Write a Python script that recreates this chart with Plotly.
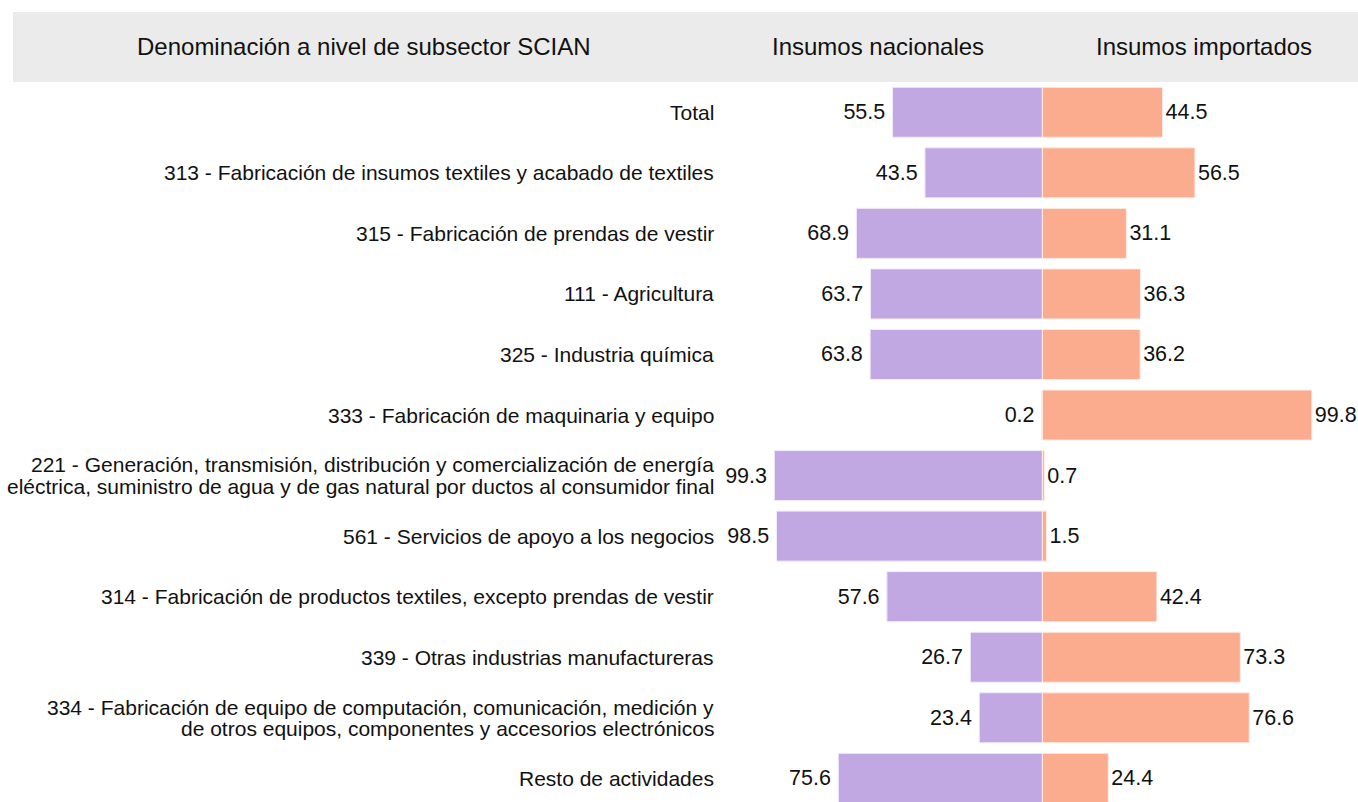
import plotly.graph_objects as go

categorias = [
    "Total",
    "313 - Fabricación de insumos textiles y acabado de textiles",
    "315 - Fabricación de prendas de vestir",
    "111 - Agricultura",
    "325 - Industria química",
    "333 - Fabricación de maquinaria y equipo",
    "221 - Generación, transmisión, distribución y comercialización de energía<br>eléctrica, suministro de agua y de gas natural por ductos al consumidor final",
    "561 - Servicios de apoyo a los negocios",
    "314 - Fabricación de productos textiles, excepto prendas de vestir",
    "339 - Otras industrias manufactureras",
    "334 - Fabricación de equipo de computación, comunicación, medición y<br>de otros equipos, componentes y accesorios electrónicos",
    "Resto de actividades",
]
nacionales = [55.5, 43.5, 68.9, 63.7, 63.8, 0.2, 99.3, 98.5, 57.6, 26.7, 23.4, 75.6]
importados = [44.5, 56.5, 31.1, 36.3, 36.2, 99.8, 0.7, 1.5, 42.4, 73.3, 76.6, 24.4]
encabezados = ["Denominación a nivel de subsector SCIAN", "Insumos nacionales", "Insumos importados"]

# body margin is removed in the page, so figure coords = page coords
W, H = 1358, 802
L, T, B, R = 722, 82, 0, 0
PW, PH = W - L - R, H - T - B
CX = 1042.4          # zero line, px
SCALE = 2.70         # px per unit
ROW = 60.55          # px per category

def px(x):
    return (x - L) / PW

def py(y):
    return 1 - (y - T) / PH

FONT = "Liberation Sans, Arial, sans-serif"
FS_LAB = 21
FS_VAL = 21.5
fig = go.Figure()
fig.add_trace(go.Bar(
    y=categorias, x=[-v for v in nacionales], orientation="h",
    marker=dict(color="#c2a8e3", line=dict(color="#f1ebf9", width=1)),
    text=[f"{v:.1f}\u2009" for v in nacionales], textposition="outside",
    textfont=dict(size=FS_VAL, color="#111", family=FONT), cliponaxis=False, constraintext="none",
    hoverinfo="skip", name=encabezados[1],
))
fig.add_trace(go.Bar(
    y=categorias, x=importados, orientation="h",
    marker=dict(color="#fbab8e", line=dict(color="#fdece6", width=1)),
    text=[f"{v:.1f}" for v in importados], textposition="outside",
    textfont=dict(size=FS_VAL, color="#111", family=FONT), cliponaxis=False, constraintext="none",
    hoverinfo="skip", name=encabezados[2],
))

# category labels (multi-line ones split for the tight line spacing of the original)
for cat in categorias:
    lines = cat.split("<br>")
    n = len(lines)
    for i, ln in enumerate(lines):
        fig.add_annotation(text=ln, xref="paper", yref="y", x=0, y=cat,
                           xanchor="right", yanchor="middle", xshift=-6,
                           yshift=(n - 1) / 2 * 21.5 - i * 21.5,
                           showarrow=False, font=dict(size=FS_LAB, color="#111", family=FONT))

fig.add_shape(type="rect", xref="paper", yref="paper",
              x0=px(13), x1=px(1360), y0=py(82), y1=py(12),
              fillcolor="#ebebeb", line=dict(width=0), layer="below")
for txt, cx in zip(encabezados, [364, 878, 1204]):
    fig.add_annotation(text=txt, xref="paper", yref="paper", x=px(cx), y=py(47),
                       showarrow=False, xanchor="center", yanchor="middle",
                       font=dict(size=24, color="#111", family=FONT))

fig.update_layout(
    width=W, height=H, margin=dict(l=L, r=R, t=T, b=B, pad=0),
    barmode="overlay", bargap=0.174, showlegend=False,
    plot_bgcolor="white", paper_bgcolor="white",
    font=dict(family=FONT, size=FS_LAB, color="#111"),
)
fig.update_xaxes(range=[-(CX - L) / SCALE, (W - R - CX) / SCALE], visible=False,
                 showgrid=False, zeroline=False)
fig.update_yaxes(type="category", range=[-0.5 + PH / ROW, -0.5], showticklabels=False,
                 showgrid=False, zeroline=False, showline=False, ticks="")

fig.write_html(
    "out.html",
    config={"displayModeBar": False},
    post_script=("document.body.style.margin='0';"
                 "document.documentElement.style.overflow='hidden';"
                 "document.body.style.overflow='hidden';"),
)
